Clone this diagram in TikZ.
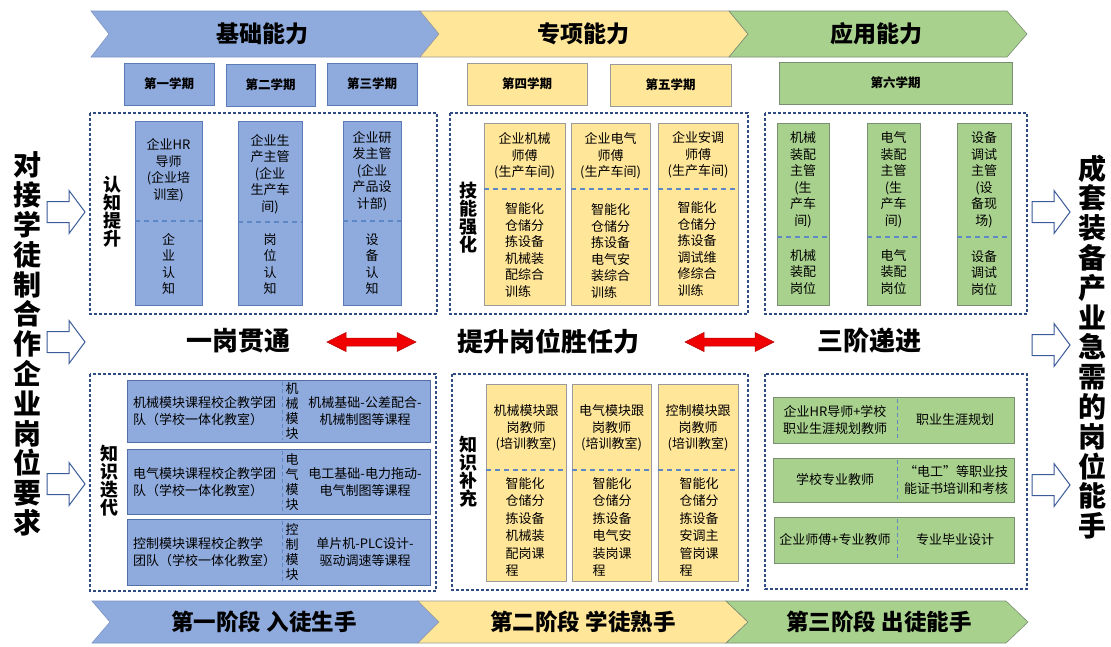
\documentclass[tikz,border=0pt]{standalone}
\usepackage{fontspec}
\setmainfont{Noto Sans CJK SC}
\usetikzlibrary{arrows.meta}
\definecolor{bfill}{HTML}{8FAADC}
\definecolor{bdraw}{HTML}{5B7BB8}
\definecolor{yfill}{HTML}{FFE699}
\definecolor{ydraw}{HTML}{9A9A9A}
\definecolor{gfill}{HTML}{A9D18E}
\definecolor{gdraw}{HTML}{7A8F72}
\definecolor{dashc}{HTML}{2F4B82}
\definecolor{divc}{HTML}{5F87C6}
\definecolor{harrowc}{HTML}{3A5A99}
\definecolor{redarrow}{HTML}{F00000}
\tikzset{
  region/.style={draw=dashc, line width=1.1pt, dash pattern=on 3pt off 2pt},
  chev/.style={line width=0.6pt},
  semtxt/.style={font=\fontsize{12.5}{14}\selectfont\bfseries, inner sep=0},
  sembox/.style={minimum height=42, inner sep=0, line width=0.7pt},
  colbox/.style={inner sep=0, line width=0.7pt},
  txt/.style={font=\fontsize{13}{16.5}\selectfont, align=center, inner sep=0},
  ltxt/.style={font=\fontsize{13}{16.5}\selectfont, align=left, inner sep=0},
  ktxt/.style={font=\fontsize{13}{17.4}\selectfont, align=left, inner sep=0},
  vtxt/.style={font=\fontsize{13}{15}\selectfont, align=center, inner sep=0},
  div/.style={draw=divc, line width=1.2pt, dash pattern=on 5pt off 4pt},
  vdiv/.style={draw=divc, line width=1pt, dash pattern=on 4pt off 3pt},
  lab/.style={font=\fontsize{18}{18}\selectfont\bfseries, align=center, inner sep=0},
  title/.style={font=\fontsize{23}{23}\selectfont\bfseries, inner sep=0},
  midtitle/.style={font=\fontsize{26}{26}\selectfont\bfseries, inner sep=0},
  stage/.style={font=\fontsize{22.5}{22.5}\selectfont\bfseries, inner sep=0},
  side/.style={font=\fontsize{28}{29.8}\selectfont\bfseries, align=center, inner sep=0},
  harrow/.pic={\draw[harrowc, fill=white, line width=1pt, line join=miter]
     (0,-10.5) -- (22,-10.5) -- (22,-21.5) -- (38,0) -- (22,21.5) -- (22,10.5) -- (0,10.5) -- cycle;},
  redarr/.pic={\draw[red!70!black, fill=redarrow, line width=0.5pt]
     (0,0) -- (19,-9.5) -- (19,-4) -- (70,-4) -- (70,-9.5) -- (89,0) -- (70,9.5) -- (70,4) -- (19,4) -- (19,9.5) -- cycle;}
}
\begin{document}
\begin{tikzpicture}[x=1pt,y=-1pt]
\useasboundingbox[fill=white] (0,0) rectangle (1111,646);

% ---------- top chevrons ----------
\draw[chev, fill=bfill, draw=bdraw!80] (91,11) -- (420,11) -- (439,34) -- (420,57) -- (91,57) -- (109,34) -- cycle;
\draw[chev, fill=yfill, draw=ydraw] (420,11) -- (729,11) -- (748,34) -- (729,57) -- (420,57) -- (439,34) -- cycle;
\draw[chev, fill=gfill, draw=gdraw] (729,11) -- (1007,11) -- (1027,34) -- (1007,57) -- (729,57) -- (748,34) -- cycle;
\node[title] (t1) at (262,34) {基础能力};
\node[title] (t2) at (583,34) {专项能力};
\node[title] (t3) at (876,34) {应用能力};

% ---------- semester boxes ----------
\node[sembox, fill=bfill, draw=bdraw, minimum width=90] (s1) at (169,84) {};
\node[semtxt] at (s1) {第一学期};
\node[sembox, fill=bfill, draw=bdraw, minimum width=89] (s2) at (270.5,85) {};
\node[semtxt] at (s2) {第二学期};
\node[sembox, fill=bfill, draw=bdraw, minimum width=90] (s3) at (372,84) {};
\node[semtxt] at (s3) {第三学期};
\node[sembox, fill=yfill, draw=ydraw, minimum width=120] (s4) at (527,84) {};
\node[semtxt] at (s4) {第四学期};
\node[sembox, fill=yfill, draw=ydraw, minimum width=121] (s5) at (670.5,85) {};
\node[semtxt] at (s5) {第五学期};
\node[sembox, fill=gfill, draw=gdraw, minimum width=233] (s6) at (895.5,83) {};
\node[semtxt] at (s6) {第六学期};

% ---------- dashed regions ----------
\draw[region] (90,113) rectangle (437,314);
\draw[region] (450,113) rectangle (748,314);
\draw[region] (765,113) rectangle (1027,314);
\draw[region] (90,374) rectangle (436,591);
\draw[region] (452,374) rectangle (748,590);
\draw[region] (765,374) rectangle (1027,589);

% ---------- box 1 (blue columns) ----------
\node[colbox, fill=bfill, draw=bdraw, minimum width=67, minimum height=184] (a1) at (168.5,213) {};
\node[colbox, fill=bfill, draw=bdraw, minimum width=64, minimum height=184] (a2) at (270,213) {};
\node[colbox, fill=bfill, draw=bdraw, minimum width=58, minimum height=184] (a3) at (372,213) {};
\draw[div] (135,221) -- (202,221);
\draw[div] (238,222) -- (302,222);
\draw[div] (343,221) -- (401,221);
\node[txt] (a1t) at (168.5,170) {企业HR\\导师\\(企业培\\训室)};
\node[txt] (a2t) at (270,174) {企业生\\产主管\\(企业\\生产车\\间)};
\node[txt] (a3t) at (372,171) {企业研\\发主管\\(企业\\产品设\\计部)};
\node[txt] (a1b) at (168.5,264) {企\\业\\认\\知};
\node[txt] (a2b) at (270,264) {岗\\位\\认\\知};
\node[txt] (a3b) at (372,264) {设\\备\\认\\知};
\node[lab] (l1) at (112,212) {认\\知\\提\\升};

% ---------- box 2 (yellow columns) ----------
\node[colbox, fill=yfill, draw=ydraw, minimum width=81, minimum height=182] (b1) at (524.5,214) {};
\node[colbox, fill=yfill, draw=ydraw, minimum width=79, minimum height=182] (b2) at (610.5,214) {};
\node[colbox, fill=yfill, draw=ydraw, minimum width=80, minimum height=182] (b3) at (698,214) {};
\draw[div] (484,189) -- (565,189);
\draw[div] (571,189) -- (650,189);
\draw[div] (658,189) -- (738,189);
\node[txt] (b1t) at (524.5,156) {企业机械\\师傅\\(生产车间)};
\node[txt] (b2t) at (610.5,156) {企业电气\\师傅\\(生产车间)};
\node[txt] (b3t) at (698,155) {企业安调\\师傅\\(生产车间)};
\node[ltxt] (b1b) at (524.5,250) {智能化\\仓储分\\拣设备\\机械装\\配综合\\训练};
\node[ltxt] (b2b) at (610.5,251) {智能化\\仓储分\\拣设备\\电气安\\装综合\\训练};
\node[ltxt] (b3b) at (697,249) {智能化\\仓储分\\拣设备\\调试维\\修综合\\训练};
\node[lab] (l2) at (468,218) {技\\能\\强\\化};

% ---------- box 3 (green columns) ----------
\node[colbox, fill=gfill, draw=gdraw, minimum width=52, minimum height=182] (g1) at (803,214) {};
\node[colbox, fill=gfill, draw=gdraw, minimum width=53, minimum height=182] (g2) at (893.5,214) {};
\node[colbox, fill=gfill, draw=gdraw, minimum width=54, minimum height=182] (g3) at (984,214) {};
\draw[div] (777,237) -- (829,237);
\draw[div] (867,237) -- (920,237);
\draw[div] (957,237) -- (1011,237);
\node[txt] (g1t) at (803,180) {机械\\装配\\主管\\(生\\产车\\间)};
\node[txt] (g2t) at (893.5,180) {电气\\装配\\主管\\(生\\产车\\间)};
\node[txt] (g3t) at (984,180) {设备\\调试\\主管\\(设\\备现\\场)};
\node[txt] (g1b) at (803,272) {机械\\装配\\岗位};
\node[txt] (g2b) at (893.5,272) {电气\\装配\\岗位};
\node[txt] (g3b) at (984,273) {设备\\调试\\岗位};

% ---------- middle row ----------
\node[midtitle] (m1) at (238,341) {一岗贯通};
\node[midtitle] (m2) at (548,341) {提升岗位胜任力};
\node[midtitle] (m3) at (869,341) {三阶递进};
\pic at (327,342) {redarr};
\pic at (685,342) {redarr};

% ---------- box 4 (blue rows) ----------
\node[colbox, fill=bfill, draw=bdraw!90!black, minimum width=303, minimum height=62] (r1) at (278.5,411) {};
\node[colbox, fill=bfill, draw=bdraw!90!black, minimum width=303, minimum height=65] (r2) at (278.5,481.5) {};
\node[colbox, fill=bfill, draw=bdraw!90!black, minimum width=303, minimum height=66] (r3) at (278.5,552) {};
\draw[vdiv] (282,382) -- (282,440);
\draw[vdiv] (282,451) -- (282,512);
\draw[vdiv] (282,521) -- (282,583);
\node[ltxt] (r1l) at (204.5,411) {机械模块课程校企教学团\\队（学校一体化教室）};
\node[vtxt] (r1v) at (292,411) {机\\械\\模\\块};
\node[txt] (r1r) at (365,411) {机械基础-公差配合-\\机械制图等课程};
\node[ltxt] (r2l) at (204.5,482) {电气模块课程校企教学团\\队（学校一体化教室）};
\node[vtxt] (r2v) at (292,482) {电\\气\\模\\块};
\node[txt] (r2r) at (365,482) {电工基础-电力拖动-\\电气制图等课程};
\node[ltxt] (r3l) at (204.5,552) {控制模块课程校企教学\\团队（学校一体化教室）};
\node[vtxt] (r3v) at (292,552) {控\\制\\模\\块};
\node[txt] (r3r) at (365,552) {单片机-PLC设计-\\驱动调速等课程};
\node[lab] (l3) at (109,481) {知\\识\\迭\\代};

% ---------- box 5 (yellow columns) ----------
\node[colbox, fill=yfill, draw=ydraw, minimum width=80, minimum height=197] (k1) at (526,482.5) {};
\node[colbox, fill=yfill, draw=ydraw, minimum width=79, minimum height=197] (k2) at (611.5,482.5) {};
\node[colbox, fill=yfill, draw=ydraw, minimum width=80, minimum height=197] (k3) at (698,482.5) {};
\draw[div] (486,470) -- (566,470);
\draw[div] (572,470) -- (651,470);
\draw[div] (658,470) -- (738,470);
\node[txt] (k1t) at (526,428) {机械模块跟\\岗教师\\(培训教室)};
\node[txt] (k2t) at (611.5,428) {电气模块跟\\岗教师\\(培训教室)};
\node[txt] (k3t) at (698,428) {控制模块跟\\岗教师\\(培训教室)};
\node[ktxt] (k1b) at (525,527) {智能化\\仓储分\\拣设备\\机械装\\配岗课\\程};
\node[ktxt] (k2b) at (612,527) {智能化\\仓储分\\拣设备\\电气安\\装岗课\\程};
\node[ktxt] (k3b) at (699,527) {智能化\\仓储分\\拣设备\\安调主\\管岗课\\程};
\node[lab] (l4) at (468,472) {知\\识\\补\\充};

% ---------- box 6 (green rows) ----------
\node[colbox, fill=gfill, draw=gdraw, minimum width=241, minimum height=46] (q1) at (893.5,420) {};
\node[colbox, fill=gfill, draw=gdraw, minimum width=241, minimum height=44] (q2) at (893.5,480) {};
\node[colbox, fill=gfill, draw=gdraw, minimum width=240, minimum height=46] (q3) at (894,540) {};
\draw[vdiv] (897,399) -- (897,441);
\draw[vdiv] (897,460) -- (897,500);
\draw[vdiv] (897,519) -- (897,561);
\node[txt] (q1l) at (835,420) {企业HR导师+学校\\职业生涯规划教师};
\node[txt] (q1r) at (955,420) {职业生涯规划};
\node[txt] (q2l) at (835,480) {学校专业教师};
\node[txt] (q2r) at (956,480) {“电工”等职业技\\能证书培训和考核};
\node[txt] (q3l) at (835,540) {企业师傅+专业教师};
\node[txt] (q3r) at (955,540) {专业毕业设计};

% ---------- side arrows and texts ----------
\pic at (47,212) {harrow};
\pic at (47,342) {harrow};
\pic at (47,484) {harrow};
\pic at (1032,212) {harrow};
\pic at (1032,345) {harrow};
\pic at (1032,485) {harrow};
\node[side] (left) at (27,344) {对\\接\\学\\徒\\制\\合\\作\\企\\业\\岗\\位\\要\\求};
\node[side] (right) at (1092,347) {成\\套\\装\\备\\产\\业\\急\\需\\的\\岗\\位\\能\\手};

% ---------- bottom chevrons ----------
\draw[chev, fill=bfill, draw=bdraw!80] (92,601) -- (418,601) -- (439,622) -- (418,643) -- (92,643) -- (110,622) -- cycle;
\draw[chev, fill=yfill, draw=ydraw] (418,601) -- (726,601) -- (748,622) -- (726,643) -- (418,643) -- (439,622) -- cycle;
\draw[chev, fill=gfill, draw=gdraw] (726,601) -- (1006,601) -- (1028,622) -- (1006,643) -- (726,643) -- (748,622) -- cycle;
\node[stage] (st1) at (264,622) {第一阶段 入徒生手};
\node[stage] (st2) at (583,622) {第二阶段 学徒熟手};
\node[stage] (st3) at (879,622) {第三阶段 出徒能手};
\end{tikzpicture}
\end{document}
